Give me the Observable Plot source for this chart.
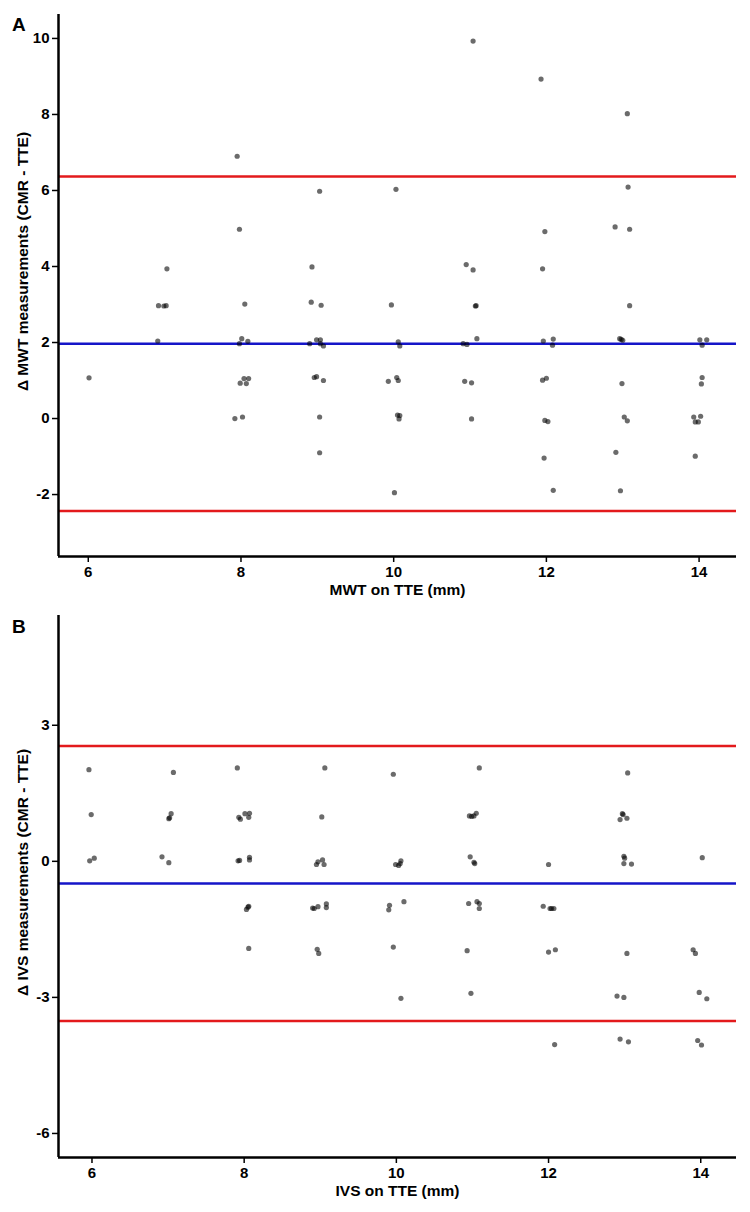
<!DOCTYPE html>
<html>
<head>
<meta charset="utf-8">
<script src="https://cdn.jsdelivr.net/npm/d3@7"></script>
<script src="https://cdn.jsdelivr.net/npm/@observablehq/plot@0.6"></script>
<style>
  html, body { margin: 0; padding: 0; background: #fff; }
  #wrap { position: relative; width: 750px; height: 1212px; font-family: "Liberation Sans", Arial, sans-serif; }
  #wrap svg { display: block; }
  .plabel { position: absolute; left: 12px; font-weight: bold; font-size: 19px; line-height: 1; color: #000; }
</style>
</head>
<body>
<div id="wrap">
  <div id="pA"></div>
  <div id="pB"></div>
  <div class="plabel" style="top:15px">A</div>
  <div class="plabel" style="top:617px">B</div>
</div>
<script>
// ---------- Panel A: MWT ----------
const mwtTTE = [7.95,9.03,7.98,7.03,8.93,11.04,11.93,13.06,10.03,13.07,11.98,12.90,13.09,10.95,11.04,11.95,
  6.92,6.99,7.02,6.91,6.01,8.05,8.01,8.09,7.98,7.99,8.04,8.10,8.07,7.92,8.02,
  8.92,9.05,8.99,9.04,8.90,9.04,9.08,8.96,8.99,9.08,9.03,9.03,
  9.97,10.06,10.08,9.93,10.04,10.06,10.05,10.08,10.07,10.01,
  11.07,11.08,10.91,10.96,11.09,10.93,11.02,11.02,
  11.96,12.09,12.08,11.95,12.00,11.98,12.02,11.97,12.09,
  12.96,13.00,12.98,13.09,12.99,13.02,13.06,12.91,12.97,
  14.01,14.10,14.04,14.04,14.03,13.93,14.02,13.95,13.99,13.95];
const mwtDiff = [6.90,5.98,4.98,3.94,3.99,9.93,8.93,8.02,6.03,6.09,4.92,5.04,4.98,4.05,3.91,3.94,
  2.97,2.96,2.97,2.04,1.07,3.01,2.10,2.03,1.97,0.93,1.05,1.05,0.92,0.00,0.04,
  3.06,2.98,2.07,2.07,1.97,1.97,1.91,1.08,1.10,1.00,0.04,-0.90,
  2.99,2.02,1.91,0.98,1.08,1.00,0.09,0.08,-0.01,-1.95,
  2.96,2.97,1.97,1.95,2.10,0.98,0.94,-0.01,
  2.04,2.09,1.93,1.01,1.06,-0.05,-0.08,-1.04,-1.89,
  2.10,2.06,2.08,2.97,0.92,0.04,-0.06,-0.89,-1.90,
  2.07,2.07,1.93,1.08,0.91,0.04,0.06,-0.09,-0.09,-0.99];
const mwtMean = [1.97];
const mwtLimits = [6.37, -2.43];

// ---------- Panel B: IVS ----------
const ivsTTE = [5.96,5.99,5.97,6.03,7.07,7.01,7.04,7.02,6.92,7.01,
  7.91,7.93,7.95,8.01,8.06,8.07,7.92,7.94,8.07,8.07,8.03,8.06,8.05,
  9.06,9.02,8.95,8.97,9.03,9.05,8.90,8.92,8.97,9.08,9.08,8.06,8.96,8.98,
  9.96,11.09,13.04,10.96,10.99,11.02,11.05,12.97,12.98,12.94,13.03,
  9.99,10.03,10.05,10.06,10.97,11.02,11.03,12.00,12.99,13.00,12.99,13.09,14.02,
  9.90,9.91,10.10,10.95,11.06,11.09,11.09,11.93,12.02,12.04,12.07,
  9.96,10.06,10.93,10.98,12.00,12.09,12.08,13.03,12.90,12.99,12.94,13.05,
  13.90,13.93,13.98,14.08,13.96,14.01];
const ivsDiff = [2.02,1.03,0.01,0.07,1.96,0.94,1.05,0.96,0.10,-0.03,
  2.06,0.97,0.93,1.05,0.97,1.06,0.01,0.02,0.09,0.03,-1.06,-0.99,-1.01,
  2.06,0.98,-0.07,-0.01,0.03,-0.07,-1.03,-1.04,-1.00,-0.94,-1.02,-1.92,-1.94,-2.03,
  1.92,2.06,1.95,1.00,0.99,1.00,1.06,1.05,1.03,0.92,0.95,
  -0.07,-0.09,-0.05,0.01,0.10,-0.02,-0.05,-0.07,0.11,0.07,-0.05,-0.06,0.08,
  -1.07,-0.97,-0.89,-0.93,-0.89,-0.93,-1.04,-0.99,-1.04,-1.04,-1.04,
  -1.89,-3.02,-1.97,-2.91,-2.00,-1.95,-4.04,-2.03,-2.97,-3.00,-3.92,-3.98,
  -1.95,-2.03,-2.89,-3.03,-3.95,-4.05];
const ivsMean = [-0.49];
const ivsLimits = [2.54, -3.52];

const xTicks = [6, 8, 10, 12, 14];
const mwtYTicks = [-2, 0, 2, 4, 6, 8, 10];
const ivsYTicks = [-6, -3, 0, 3];

const RED = "#e31a1c", BLUE = "#1515c8";
const FONT = "'Liberation Sans', Arial, sans-serif";
const fmt = d => String(d);

function panel({xs, ys, mean, limits, xDomain, yDomain, yTicks, xTitle, yTitle, marginTop, marginBottom, yTitleDy}) {
  const data = xs.map((x, i) => ({x, y: ys[i]}));
  return Plot.plot({
    width: 750,
    height: 606,
    marginTop, marginBottom,
    marginLeft: 58, marginRight: 14,
    style: {fontFamily: FONT, fontWeight: "bold", fontSize: "15px", color: "#000", background: "#fff", overflow: "visible"},
    x: {domain: xDomain},
    y: {domain: yDomain},
    marks: [
      Plot.axisX({ticks: xTicks, tickFormat: fmt, tickSize: 6, tickPadding: 4, strokeWidth: 1.5, label: null, fontSize: 15, fontWeight: "bold"}),
      Plot.axisY({ticks: yTicks, tickFormat: fmt, tickSize: 6, tickPadding: 3, strokeWidth: 1.5, label: null, fontSize: 15, fontWeight: "bold"}),
      Plot.ruleY(limits, {stroke: RED, strokeWidth: 2.5}),
      Plot.ruleY(mean, {stroke: BLUE, strokeWidth: 2.5}),
      Plot.dot(data, {x: "x", y: "y", r: 2.6, fill: "#000", fillOpacity: 0.58, stroke: "none"}),
      Plot.ruleX([xDomain[0]], {stroke: "#000", strokeWidth: 2.5}),
      Plot.ruleY([yDomain[0]], {stroke: "#000", strokeWidth: 2.5}),
      Plot.text([xTitle], {frameAnchor: "bottom", textAnchor: "middle", lineAnchor: "middle", dy: 34, fontSize: 15.5, fontWeight: "bold", fill: "#000"}),
      Plot.text([yTitle], {frameAnchor: "left", textAnchor: "middle", lineAnchor: "middle", rotate: -90, dx: -35, dy: yTitleDy, fontSize: 15.5, fontWeight: "bold", fill: "#000"})
    ]
  });
}

document.getElementById("pA").appendChild(panel({
  xs: mwtTTE, ys: mwtDiff, mean: mwtMean, limits: mwtLimits,
  xDomain: [5.61, 14.49], yDomain: [-3.63, 10.63], yTicks: mwtYTicks,
  xTitle: "MWT on TTE (mm)", yTitle: "Δ MWT measurements (CMR - TTE)",
  marginTop: 14, marginBottom: 50, yTitleDy: -24
}));

document.getElementById("pB").appendChild(panel({
  xs: ivsTTE, ys: ivsDiff, mean: ivsMean, limits: ivsLimits,
  xDomain: [5.56, 14.47], yDomain: [-6.53, 5.42], yTicks: ivsYTicks,
  xTitle: "IVS on TTE (mm)", yTitle: "Δ IVS measurements (CMR - TTE)",
  marginTop: 9, marginBottom: 55, yTitleDy: -14
}));
</script>
</body>
</html>
